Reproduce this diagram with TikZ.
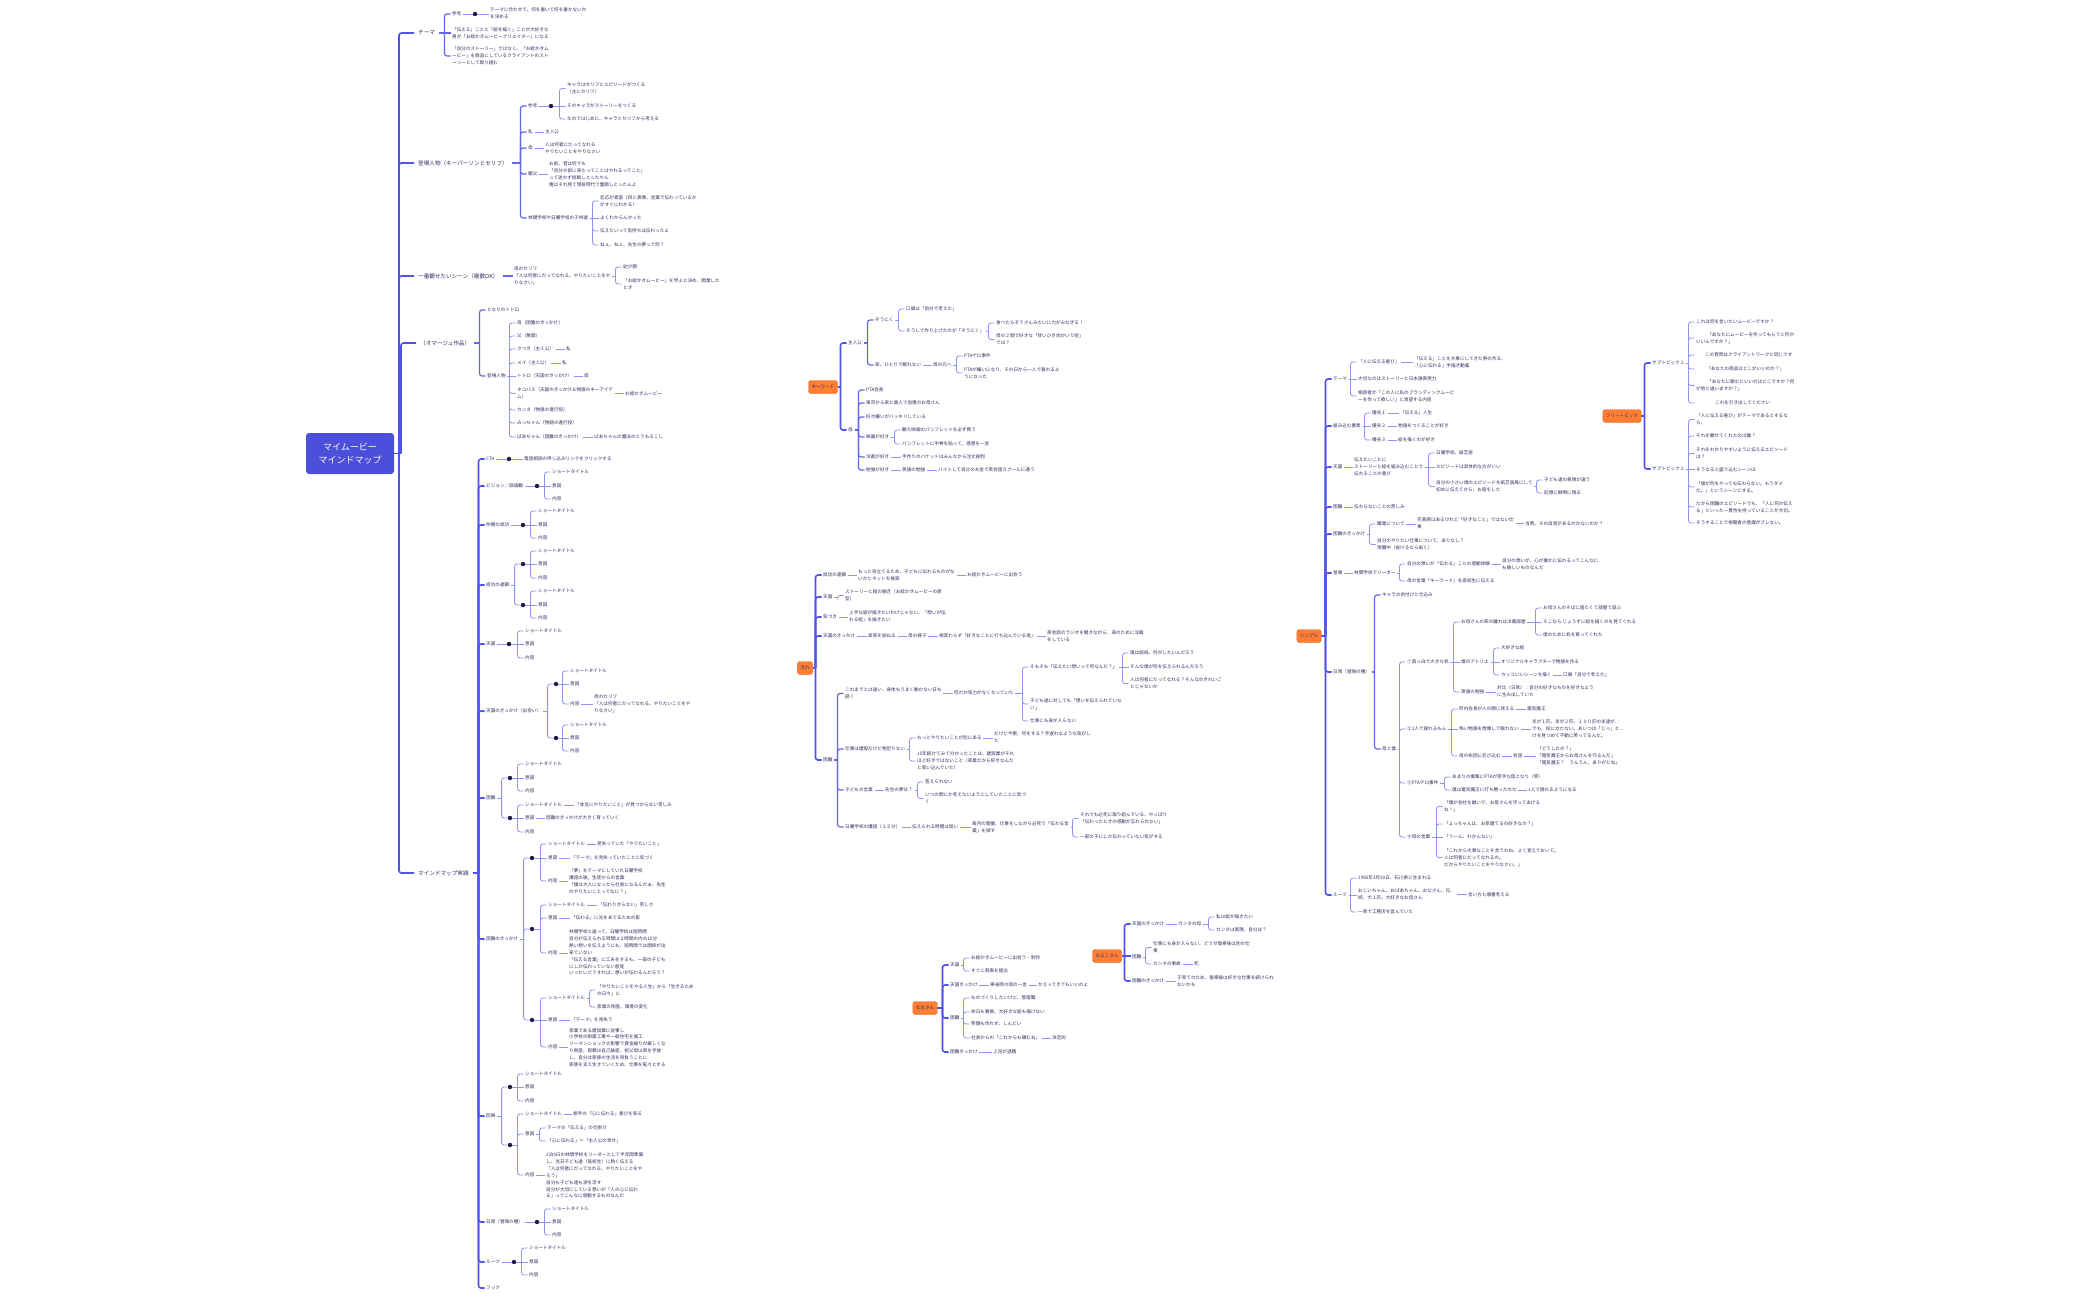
\documentclass[tikz,border=0pt]{standalone}
\usepackage{fontspec}
\setmainfont{Noto Sans CJK JP}
\definecolor{tc}{HTML}{2F2D5E}
\definecolor{dc}{HTML}{1E1B4B}
\definecolor{c1}{HTML}{4F53E6}
\definecolor{c2}{HTML}{6467EB}
\definecolor{c3}{HTML}{9294F3}
\definecolor{oc}{HTML}{FF7E33}
\definecolor{rc}{HTML}{4B4FD9}
\newcommand\fs{\fontsize{4.6}{6.9}\selectfont}
\newcommand\fb{\fontsize{5.6}{7}\selectfont}
\newdimen\Pya \newdimen\Pyb \newdimen\Pyd
\newcommand\Ex[4][l3]{%
  \pgfextracty{\Pya}{\pgfpointanchor{#2}{east}}%
  \pgfextracty{\Pyb}{\pgfpointanchor{#3}{west}}%
  \Pyd=\dimexpr\Pya-\Pyb\relax
  \ifdim\Pyd<0pt \Pyd=-\Pyd\fi
  \ifdim\Pyd<1.5pt
    \draw[#1] (#2.east) -- (#3.west |- #2.east);
  \else
    \draw[#1] (#2.east) -- ([xshift=-#4]#3.west |- #2.east);
    \draw[#1,rounded corners=2.5pt] ([xshift=-#4]#3.west |- #2.east) |- (#3.west);
  \fi}
\newcommand\E[3][l3]{\Ex[#1]{#2}{#3}{6pt}}
\newcommand\D[3]{\node[dt] (#1) at (#2,#3) {};}
\newcommand\STI[6]{%
  \node[t] (#1s) at (#3,#4) {ショートタイトル};
  \node[t] (#1i) at (#3,#5) {意図};
  \node[t] (#1n) at (#3,#6) {内容};
  \E{#2}{#1s}\E{#2}{#1i}\E{#2}{#1n}}
\begin{document}
\begin{tikzpicture}[x=1pt,y=-1pt,
  t/.style={anchor=west,xshift=-1.5pt,inner sep=1.5pt,font=\fs,text=tc,align=left},
  b/.style={anchor=west,xshift=-4pt,inner ysep=1.5pt,inner xsep=4pt,font=\fb,text=tc,align=left},
  dt/.style={circle,fill=dc,inner sep=0pt,minimum size=4.4pt},
  ob/.style={rounded corners=2.5pt,fill=oc,draw=oc!85!black,line width=0.4pt,font=\fs,text=tc,inner xsep=3pt,inner ysep=1pt,minimum height=13pt},
  rootbox/.style={rounded corners=3pt,fill=rc,text=white,font=\fontsize{9}{13}\selectfont,align=center,minimum width=88pt,minimum height=41pt,inner sep=1pt},
  l1/.style={line width=1.6pt,draw=c1},
  l2/.style={line width=1.2pt,draw=c2},
  l3/.style={line width=0.85pt,draw=c3}]
\useasboundingbox (0,0) rectangle (2100,1299);
\fill[white] (0,0) rectangle (2100,1299);

%================ ROOT =================
\node[rootbox] (root) at (350,453.5) {マイムービー\\マインドマップ};

% --- テーマ
\node[b] (T1) at (418,33) {テーマ};
\node[t] (T1a) at (452,14) {参考};
\D{T1ad}{475}{14}
\node[t] (T1ab) at (490,13.5) {テーマに合わせて、何を書いて何を書かないか\\を決める};
\node[t] (T1b) at (452,33.5) {「伝える」ことと「絵を描く」ことが大好きな\\男が「お絵かきムービークリエイター」になる};
\node[t] (T1c) at (452,56) {「自分のストーリー」ではなく、「お絵かきム\\ービー」を商品にしているクライアントのスト\\ーリーとして取り組む};
\Ex[l1]{root}{T1}{15pt}
\E[l2]{T1}{T1a}\E[l2]{T1}{T1b}\E[l2]{T1}{T1c}
\E{T1a}{T1ad}\E{T1ad}{T1ab}

% --- 登場人物
\node[b] (T2) at (418,163) {登場人物（キーパーソンとセリフ）};
\node[t] (T2a) at (528,106) {参考};
\D{T2ad}{551}{106}
\node[t] (T2a1) at (567,88.5) {キャラはセリフとエピソードがつくる\\（主にセリフ）};
\node[t] (T2a2) at (567,106) {そのキャラがストーリーをつくる};
\node[t] (T2a3) at (567,119) {なのではじめに、キャラとセリフから考える};
\node[t] (T2b) at (528,132) {私};
\node[t] (T2b1) at (545,132) {主人公};
\node[t] (T2c) at (528,148) {母};
\node[t] (T2c1) at (545,148.5) {人は何者にだってなれる\\やりたいことをやりなさい};
\node[t] (T2d) at (528,174) {親父};
\node[t] (T2d1) at (549,174) {お前、昔は何でも\\「自分の前に来たってことはやれるってこと」\\って迷わず挑戦しとったやん\\俺はそれ見て現役時代で奮闘しとったんよ};
\node[t] (T2e) at (528,218) {林間学校や日曜学校の子供達};
\node[t] (T2e1) at (600,201) {反応が素直（目と表情、言葉で伝わっているか\\がすぐにわかる）};
\node[t] (T2e2) at (600,218) {よくわからんかった};
\node[t] (T2e3) at (600,231) {伝えたいって気持ちは伝わったよ};
\node[t] (T2e4) at (600,245) {ねぇ、ねぇ、先生の夢って何？};
\Ex[l1]{root}{T2}{15pt}
\E[l2]{T2}{T2a}\E[l2]{T2}{T2b}\E[l2]{T2}{T2c}\E[l2]{T2}{T2d}\E[l2]{T2}{T2e}
\E{T2a}{T2ad}\E{T2ad}{T2a1}\E{T2ad}{T2a2}\E{T2ad}{T2a3}
\E{T2b}{T2b1}\E{T2c}{T2c1}\E{T2d}{T2d1}
\E{T2e}{T2e1}\E{T2e}{T2e2}\E{T2e}{T2e3}\E{T2e}{T2e4}

% --- 一番観せたいシーン
\node[b] (T3) at (418,276) {一番観せたいシーン（複数OK）};
\node[t] (T3a) at (514,276) {母のセリフ\\「人は何者にだってなれる、やりたいことをや\\りなさい」};
\node[t] (T3a1) at (623,267) {幼少期};
\node[t] (T3a2) at (623,284) {「お絵かきムービー」を学ぶと決め、開業した\\とき};
\Ex[l1]{root}{T3}{15pt}
\E[l2]{T3}{T3a}\E{T3a}{T3a1}\E{T3a}{T3a2}

% --- オマージュ作品
\node[b] (T4) at (420,343) {（オマージュ作品）};
\node[t] (T4a) at (487,310) {となりのトトロ};
\node[t] (T4b) at (487,376) {登場人物};
\node[t] (T4b1) at (517,323) {母（困難のきっかけ）};
\node[t] (T4b2) at (517,336) {父（無関）};
\node[t] (T4b3) at (517,349) {さつき（主人公）};
\node[t] (T4b3a) at (566,349) {私};
\node[t] (T4b4) at (517,363) {メイ（主人公）};
\node[t] (T4b4a) at (562,363) {私};
\node[t] (T4b5) at (517,376) {トトロ（天国のきっかけ）};
\node[t] (T4b5a) at (584,376) {母};
\node[t] (T4b6) at (517,393.5) {ネコバス（天国のきっかけ＆物語のキーアイテ\\ム）};
\node[t] (T4b6a) at (625,393.5) {お絵かきムービー};
\node[t] (T4b7) at (517,410) {カンタ（物語の進行役）};
\node[t] (T4b8) at (517,423) {みっちゃん（物語の進行役）};
\node[t] (T4b9) at (517,437) {ばあちゃん（困難のきっかけ）};
\node[t] (T4b9a) at (594,437) {ばあちゃんの魔法のとうもろこし};
\Ex[l1]{root}{T4}{15pt}
\E[l2]{T4}{T4a}\E[l2]{T4}{T4b}
\E{T4b}{T4b1}\E{T4b}{T4b2}\E{T4b}{T4b3}\E{T4b}{T4b4}\E{T4b}{T4b5}
\E{T4b}{T4b6}\E{T4b}{T4b7}\E{T4b}{T4b8}\E{T4b}{T4b9}
\E{T4b3}{T4b3a}\E{T4b4}{T4b4a}\E{T4b5}{T4b5a}\E{T4b6}{T4b6a}\E{T4b9}{T4b9a}

% --- マインドマップ実践
\node[b] (T5) at (418,873) {マインドマップ実践};
\Ex[l1]{root}{T5}{15pt}
\node[t] (M1) at (486,459) {CTA};
\D{M1d}{509}{459}
\node[t] (M1a) at (524,459) {電話相談の申し込みリンクをクリックする};
\E[l1]{T5}{M1}\E{M1}{M1d}\E{M1d}{M1a}

\node[t] (M2) at (486,486) {ビジョン／価値観};
\D{M2d}{537}{486}
\E[l1]{T5}{M2}\E{M2}{M2d}
\STI{M2}{M2d}{552}{472}{485.5}{499}

\node[t] (M3) at (486,525) {仲間の成功};
\D{M3d}{523}{525}
\E[l1]{T5}{M3}\E{M3}{M3d}
\STI{M3}{M3d}{538}{511}{525}{538}

\node[t] (M4) at (486,585) {成功の連鎖};
\D{M4d}{523}{564}\D{M4e}{523}{605}
\E[l1]{T5}{M4}\E{M4}{M4d}\E{M4}{M4e}
\STI{M4a}{M4d}{538}{551}{564}{578}
\STI{M4b}{M4e}{538}{591}{605}{618}

\node[t] (M5) at (486,644) {天国};
\D{M5d}{509}{644}
\E[l1]{T5}{M5}\E{M5}{M5d}
\STI{M5}{M5d}{525}{631}{644}{658}

\node[t] (M6) at (486,711) {天国のきっかけ（出会い）};
\D{M6d}{556}{684}\D{M6e}{556}{738}
\E[l1]{T5}{M6}\E{M6}{M6d}\E{M6}{M6e}
\STI{M6a}{M6d}{570}{671}{684}{704}
\node[t] (M6an2) at (594,704) {母のセリフ\\「人は何者にだってなれる、やりたいことをや\\りなさい」};
\E{M6an}{M6an2}
\STI{M6b}{M6e}{570}{725}{738}{751}

\node[t] (M7) at (486,798) {困難};
\D{M7d}{510}{778}\D{M7e}{510}{818}
\E[l1]{T5}{M7}\E{M7}{M7d}\E{M7}{M7e}
\STI{M7a}{M7d}{525}{764}{778}{791}
\STI{M7b}{M7e}{525}{805}{818}{832}
\node[t] (M7bs2) at (575,805) {「本当にやりたいこと」が見つからない苦しみ};
\node[t] (M7bi2) at (546,818) {困難のきっかけが大きく育っていく};
\E{M7bs}{M7bs2}\E{M7bi}{M7bi2}

\node[t] (M8) at (486,939) {困難のきっかけ};
\D{M8d}{532}{858}\D{M8e}{532}{929}\D{M8f}{532}{1020}
\E[l1]{T5}{M8}\E{M8}{M8d}\E{M8}{M8e}\E{M8}{M8f}
\STI{M8a}{M8d}{548}{844}{858}{881}
\node[t] (M8as2) at (597,844) {見失っていた「やりたいこと」};
\node[t] (M8ai2) at (571,858) {「テーマ」を見失っていたことに気づく};
\node[t] (M8an2) at (569,881.5) {「夢」をテーマにしていた日曜学校\\講話の後、生徒からの言葉\\「僕は大人になったら社長になるんだぁ、先生\\のやりたいことってなに？」};
\E{M8as}{M8as2}\E{M8ai}{M8ai2}\E{M8an}{M8an2}
\STI{M8b}{M8e}{548}{905}{918}{953}
\node[t] (M8bs2) at (598,905) {「伝わりきらない」苦しさ};
\node[t] (M8bi2) at (571,918) {「伝わる」に光をあてるための影};
\node[t] (M8bn2) at (569,952.5) {林間学校と違って、日曜学校は短時間\\自分が伝えられる時間は２時間の内の15分\\熱い想いを伝えようにも、短時間では関係が出\\来ていない\\「伝える言葉」に工夫をするも、一部の子ども\\にしか伝わっていない感覚\\いったいどうすれば、想いが伝わるんだろう？};
\E{M8bs}{M8bs2}\E{M8bi}{M8bi2}\E{M8bn}{M8bn2}
\STI{M8c}{M8f}{548}{998}{1020}{1047}
\node[t] (M8cs2) at (597,990) {「やりたいことをやる人生」から「生きるため\\の日々」に};
\node[t] (M8cs3) at (597,1007) {家業の倒産、環境の変化};
\node[t] (M8ci2) at (571,1020) {「テーマ」を見失う};
\node[t] (M8cn2) at (569,1047.5) {家業である建設業に従事し\\小学校の耐震工事や一般住宅を施工\\リーマンショックの影響で資金繰りが厳しくな\\り倒産、両親は自己破産、祖父母は家を手放\\し、自分は家族の生活を背負うことに\\家族を支え生きていくため、仕事を転々とする};
\E{M8cs}{M8cs2}\E{M8cs}{M8cs3}\E{M8ci}{M8ci2}\E{M8cn}{M8cn2}

\node[t] (M9) at (486,1116) {回帰};
\D{M9d}{510}{1087}\D{M9e}{510}{1145}
\E[l1]{T5}{M9}\E{M9}{M9d}\E{M9}{M9e}
\STI{M9a}{M9d}{525}{1074}{1087}{1101}
\STI{M9b}{M9e}{525}{1114}{1134}{1175}
\node[t] (M9bs2) at (573,1114) {相手の「心に伝わる」喜びを知る};
\node[t] (M9bi2) at (547,1128) {テーマの「伝える」の仕掛け};
\node[t] (M9bi3) at (547,1141) {「心に伝わる」＝「主人公の幸せ」};
\node[t] (M9bn2) at (546,1175.5) {2泊3日の林間学校をリーダーとして半年間準備\\し、当日子ども達（高校生）に熱く伝える\\「人は何者にだってなれる、やりたいことをや\\ろう」\\自分も子ども達も涙を流す\\自分が大切にしている想いが「人の心に伝わ\\る」ってこんなに感動するものなんだ};
\E{M9bs}{M9bs2}\E{M9bi}{M9bi2}\E{M9bi}{M9bi3}\E{M9bn}{M9bn2}

\node[t] (M10) at (486,1222) {日常（冒険の種）};
\D{M10d}{537}{1222}
\E[l1]{T5}{M10}\E{M10}{M10d}
\STI{M10}{M10d}{552}{1209}{1222}{1235}

\node[t] (M11) at (486,1262) {ルーツ};
\D{M11d}{514}{1262}
\E[l1]{T5}{M11}\E{M11}{M11d}
\STI{M11}{M11d}{529}{1248}{1262}{1275}

\node[t] (M12) at (486,1288) {フック};
\E[l1]{T5}{M12}

%================ キーワード =================
\node[ob] (K) at (823,387) {キーワード};
\node[t] (K1) at (848,343) {主人公};
\node[t] (K1a) at (875,320) {ぞうにく};
\node[t] (K1a1) at (906,309) {口癖は「自分で考えた」};
\node[t] (K1a2) at (906,331) {そうして作り上げたのが「ぞうにく」};
\node[t] (K1a2a) at (996,323) {食べたらぞうさんみたいに力がみなぎる！};
\node[t] (K1a2b) at (996,339.5) {母の２個で好きな「甘いひき肉かいり前」\\では？};
\node[t] (K1b) at (875,365) {夜、ひとりで眠れない};
\node[t] (K1b1) at (933,365) {母の元へ};
\node[t] (K1b1a) at (964,356) {PTAゲロ事件};
\node[t] (K1b1b) at (964,373) {PTAが嫌いになり、その日から一人で寝れるよ\\うになった};
\node[t] (K2) at (848,430) {母};
\node[t] (K2a) at (866,390) {PTA会長};
\node[t] (K2b) at (866,403) {東京から来た美人で自慢のお母さん};
\node[t] (K2c) at (866,417) {好き嫌いがハッキリしている};
\node[t] (K2d) at (866,437) {映画が好き};
\node[t] (K2d1) at (902,430) {観た映画のパンフレットを必ず買う};
\node[t] (K2d2) at (902,444) {パンフレットに半券を貼って、感想を一言};
\node[t] (K2e) at (866,457) {洋裁が好き};
\node[t] (K2e1) at (902,457) {手作りのバケットはみんなから注文殺到};
\node[t] (K2f) at (866,470) {勉強が好き};
\node[t] (K2f1) at (902,470) {英語の勉強};
\node[t] (K2f2) at (938,470) {バイトして自分のお金で英会話スクールに通う};
\E[l1]{K}{K1}\E[l1]{K}{K2}
\E[l2]{K1}{K1a}\E[l2]{K1}{K1b}
\E{K1a}{K1a1}\E{K1a}{K1a2}\E{K1a2}{K1a2a}\E{K1a2}{K1a2b}
\E{K1b}{K1b1}\E{K1b1}{K1b1a}\E{K1b1}{K1b1b}
\E[l2]{K2}{K2a}\E[l2]{K2}{K2b}\E[l2]{K2}{K2c}\E[l2]{K2}{K2d}\E[l2]{K2}{K2e}\E[l2]{K2}{K2f}
\E{K2d}{K2d1}\E{K2d}{K2d2}\E{K2e}{K2e1}\E{K2f}{K2f1}\E{K2f1}{K2f2}

%================ 流れ =================
\node[ob] (F) at (805,668) {流れ};
\node[t] (F1) at (823,575) {成功の連鎖};
\node[t] (F1a) at (858,575.5) {もっと役立てるため、子どもに伝わるものがな\\いかとネットを検索};
\node[t] (F1b) at (967,575) {お絵かきムービーに出会う};
\node[t] (F2) at (823,597) {天国};
\node[t] (F2a) at (845,595.5) {ストーリーと絵の融合（お絵かきムービーの原\\型）};
\node[t] (F3) at (823,617) {気づき};
\node[t] (F3a) at (849,616.5) {上手な絵が描きたいわけじゃない、「想いが伝\\わる絵」を描きたい};
\node[t] (F4) at (823,636) {天国のきっかけ};
\node[t] (F4a) at (868,636) {実家を訪ねる};
\node[t] (F4b) at (908,636) {母の様子};
\node[t] (F4c) at (939,636) {相変わらず「好きなことに打ち込んでいる母」};
\node[t] (F4d) at (1047,636.5) {英会話のラジオを聞きながら、孫のために洋裁\\をしている};
\node[t] (F5) at (823,760) {困難};
\node[t] (F5a) at (845,693.5) {これまでとは違い、身体もうまく動かない日も\\続く};
\node[t] (F5a1) at (954,693) {何だか気力がなくなっていた};
\node[t] (F5a1a) at (1030,667) {そもそも「伝えたい想いって何なんだ？」};
\node[t] (F5a1a1) at (1130,653) {僕は結局、何がしたいんだろう};
\node[t] (F5a1a2) at (1130,667) {そんな僕が何を伝えられるんだろう};
\node[t] (F5a1a3) at (1130,683.5) {人は何者にだってなれる？そんなのきれいご\\とじゃないか};
\node[t] (F5a1b) at (1030,704) {子ども達に対しても「想いを伝えられていな\\い」};
\node[t] (F5a1c) at (1030,721) {仕事にも身が入らない};
\node[t] (F5b) at (845,749) {仕事は建設だけど物足りない};
\node[t] (F5b1) at (917,738) {もっとやりたいことが別にある};
\node[t] (F5b1a) at (994,737.5) {だけど今更、何をする？手遅れなような気がし\\た};
\node[t] (F5b2) at (917,761) {15年続けてみて分かったことは、建設業がそれ\\ほど好きではないこと（家業だから好きなんだ\\と思い込んでいた）};
\node[t] (F5c) at (845,790) {子どもの言葉};
\node[t] (F5c1) at (885,790) {先生の夢は？};
\node[t] (F5c1a) at (925,782) {答えられない};
\node[t] (F5c1b) at (925,798.5) {いつの間にか考えないようにしていたことに気づ\\く};
\node[t] (F5d) at (845,827) {日曜学校の講話（１５分）};
\node[t] (F5d1) at (912,827) {伝えられる時間は短い};
\node[t] (F5d2) at (972,827.5) {毎月の開催、仕事をしながら必死で「伝わる言\\葉」を探す};
\node[t] (F5d2a) at (1080,818.5) {それでも必死に取り組んでいる、やっぱり\\「伝わったときの感動が忘れられない」};
\node[t] (F5d2b) at (1080,837) {一部の子にしか伝わっていない気がする};
\E[l1]{F}{F1}\E[l1]{F}{F2}\E[l1]{F}{F3}\E[l1]{F}{F4}\E[l1]{F}{F5}
\E{F1}{F1a}\E{F1a}{F1b}\E{F2}{F2a}\E{F3}{F3a}
\E{F4}{F4a}\E{F4a}{F4b}\E{F4b}{F4c}\E{F4c}{F4d}
\E[l2]{F5}{F5a}\E[l2]{F5}{F5b}\E[l2]{F5}{F5c}\E[l2]{F5}{F5d}
\E{F5a}{F5a1}\E{F5a1}{F5a1a}\E{F5a1}{F5a1b}\E{F5a1}{F5a1c}
\E{F5a1a}{F5a1a1}\E{F5a1a}{F5a1a2}\E{F5a1a}{F5a1a3}
\E{F5b}{F5b1}\E{F5b}{F5b2}\E{F5b1}{F5b1a}
\E{F5c}{F5c1}\E{F5c1}{F5c1a}\E{F5c1}{F5c1b}
\E{F5d}{F5d1}\E{F5d1}{F5d2}\E{F5d2}{F5d2a}\E{F5d2}{F5d2b}

%================ なおさん =================
\node[ob] (N) at (925,1008) {なおさん};
\node[t] (N1) at (950,965) {天国};
\node[t] (N1a) at (971,958) {お絵かきムービーに出会う・制作};
\node[t] (N1b) at (971,971) {すぐに辞表を提出};
\node[t] (N2) at (950,985) {天国きっかけ};
\node[t] (N2a) at (990,985) {帰省時の母の一言};
\node[t] (N2b) at (1038,985) {かえってきてもいいのよ};
\node[t] (N3) at (950,1018) {困難};
\node[t] (N3a) at (971,998) {ものづくりしたいけど、管理職};
\node[t] (N3b) at (971,1012) {休日も要員、大好きな絵も描けない};
\node[t] (N3c) at (971,1024) {笑顔も作れず、しんどい};
\node[t] (N3d) at (971,1038) {社長からの「これからも頼むね」};
\node[t] (N3d1) at (1052,1038) {決定的};
\node[t] (N4) at (950,1052) {困難きっかけ};
\node[t] (N4a) at (993,1052) {上司が退職};
\E[l1]{N}{N1}\E[l1]{N}{N2}\E[l1]{N}{N3}\E[l1]{N}{N4}
\E{N1}{N1a}\E{N1}{N1b}\E{N2}{N2a}\E{N2a}{N2b}
\E{N3}{N3a}\E{N3}{N3b}\E{N3}{N3c}\E{N3}{N3d}\E{N3d}{N3d1}\E{N4}{N4a}

%================ なるこさん =================
\node[ob] (R) at (1107,956) {なるこさん};
\node[t] (R1) at (1132,924) {天国のきっかけ};
\node[t] (R1a) at (1178,924) {カンタの母};
\node[t] (R1a1) at (1216,917) {私は絵が描きたい};
\node[t] (R1a2) at (1216,930) {カンタは表現、自分は？};
\node[t] (R2) at (1132,957) {困難};
\node[t] (R2a) at (1153,947.5) {仕事にも身が入らない、どうせ復帰後は別の仕\\事};
\node[t] (R2b) at (1153,964) {カンタの事故};
\node[t] (R2b1) at (1194,964) {死};
\node[t] (R3) at (1132,981) {困難のきっかけ};
\node[t] (R3a) at (1177,981) {子育てのため、復帰後は好きな仕事を続けられ\\ないかも};
\E[l1]{R}{R1}\E[l1]{R}{R2}\E[l1]{R}{R3}
\E{R1}{R1a}\E{R1a}{R1a1}\E{R1a}{R1a2}
\E{R2}{R2a}\E{R2}{R2b}\E{R2b}{R2b1}\E{R3}{R3a}

%================ シンプル =================
\node[ob] (S) at (1309,636) {シンプル};
\node[t] (S1) at (1333,379) {テーマ};
\node[t] (S1a) at (1358,362) {「人に伝える喜び」};
\node[t] (S1a1) at (1414,362.5) {「伝える」ことを大事にしてきた男の作る、\\「心に伝わる」手描き動画};
\node[t] (S1b) at (1358,379) {大切なのはストーリーと日本語表現力};
\node[t] (S1c) at (1358,396) {相談者が「この人に私のブランディングムービ\\ーを作って欲しい」と渇望する内容};
\node[t] (S2) at (1333,426) {組み込む要素};
\node[t] (S2a) at (1372,413) {優先１};
\node[t] (S2a1) at (1400,413) {「伝える」人生};
\node[t] (S2b) at (1372,426) {優先２};
\node[t] (S2b1) at (1398,426) {物語をつくることが好き};
\node[t] (S2c) at (1372,440) {優先３};
\node[t] (S2c1) at (1398,440) {絵を描くのが好き};
\node[t] (S3) at (1333,467) {天国};
\node[t] (S3a) at (1354,467) {伝えたいことに\\ストーリーと絵を組み込むことで\\伝わることの喜び};
\node[t] (S3a1) at (1436,453) {日曜学校、紙芝居};
\node[t] (S3a2) at (1436,467) {エピソードは具体的な方がいい};
\node[t] (S3a3) at (1436,486.5) {自分の小さい頃のエピソードを紙芝居風にして\\初めに伝えてから、お話をした};
\node[t] (S3a3a) at (1544,480) {子ども達の表情が違う};
\node[t] (S3a3b) at (1544,493) {記憶に鮮明に残る};
\node[t] (S4) at (1333,507) {困難};
\node[t] (S4a) at (1354,507) {伝わらないことの苦しみ};
\node[t] (S5) at (1333,534) {困難のきっかけ};
\node[t] (S5a) at (1377,524) {職業について};
\node[t] (S5a1) at (1417,523.5) {充実感はあるけれど「好きなこと」ではない仕\\事};
\node[t] (S5a2) at (1525,524) {当時、その自覚があるのかないのか？};
\node[t] (S5b) at (1377,544.5) {自分のやりたい仕事について、ありなし？\\現職中（省けるなら省く）};
\node[t] (S6) at (1333,573) {冒険};
\node[t] (S6a) at (1354,573) {林間学校でリーダー};
\node[t] (S6a1) at (1407,564) {自分の想いが「伝わる」ことの感動体験};
\node[t] (S6a1a) at (1502,564) {自分の想いが、心が誰かに伝わるってこんなに\\も嬉しいものなんだ};
\node[t] (S6a2) at (1407,581) {母の言葉「キーワード」を高校生に伝える};
\node[t] (S7) at (1333,672) {日常（冒険の種）};
\node[t] (S7a) at (1382,595) {キャラの肉付けと仕込み};
\node[t] (S7b) at (1382,749) {母と僕};
\node[t] (S71) at (1407,662) {①真っ白で大きな机};
\node[t] (S71a) at (1461,622) {お母さんの家の離れは洋裁部屋};
\node[t] (S71a1) at (1543,608) {お母さんのそばに居たくて部屋で遊ぶ};
\node[t] (S71a2) at (1543,622) {そこなら じょうずに絵を描くのを見てくれる};
\node[t] (S71a3) at (1543,635) {僕のために机を買ってくれた};
\node[t] (S71b) at (1461,662) {僕のアトリエ};
\node[t] (S71b1) at (1501,648) {大好きな絵};
\node[t] (S71b2) at (1501,662) {オリジナルキャラクターで物語を作る};
\node[t] (S71b3) at (1501,675) {カッコいいシーンを描く};
\node[t] (S71b3a) at (1563,675) {口癖「自分で考えた」};
\node[t] (S71c) at (1461,692) {英語の勉強};
\node[t] (S71c1) at (1497,691.5) {対比（日常）：自分の好きなものを好きなよう\\に生み出していた};
\node[t] (S72) at (1407,729) {②1人で寝れるもん};
\node[t] (S72a) at (1459,709) {町内会長が人の顔に見える};
\node[t] (S72a1) at (1527,709) {電気魔王};
\node[t] (S72b) at (1459,729) {怖い物語を想像して眠れない};
\node[t] (S72b1) at (1532,729) {羊が１匹、羊が２匹、１００匹の羊達が…\\でも、役に立たない。あいつは「じっ」と…\\けを見つめて不動に笑ってるんだ。};
\node[t] (S72c) at (1459,756) {母の布団に忍び込む};
\node[t] (S72c1) at (1513,756) {会話};
\node[t] (S72c2) at (1537,755.5) {「どうしたの？」\\「電気魔王からお母さんを守るんだ」\\「電気魔王？　うんうん、ありがとね」};
\node[t] (S73) at (1407,783) {③PTAゲロ事件};
\node[t] (S73a) at (1452,777) {あまりの衝撃にPTAが苦手な話となり（笑）};
\node[t] (S73b) at (1452,790) {僕は電気魔王に打ち勝ったのだ};
\node[t] (S73b1) at (1528,790) {1人で寝れるようになる};
\node[t] (S74) at (1407,837) {④母の言葉};
\node[t] (S74a) at (1444,806.5) {「僕が会社を継いで、お母さんを守ってあげる\\ね！」};
\node[t] (S74b) at (1444,824) {「よっちゃんは、お家建てるの好きなの？」};
\node[t] (S74c) at (1444,837) {「うーん、わかんない」};
\node[t] (S74d) at (1444,857.5) {「これから大事なことを言うわね、よく覚えておいて。\\人は何者にだってなれるの。\\だからやりたいことをやりなさい。」};
\node[t] (S8) at (1333,895) {ルーツ};
\node[t] (S8a) at (1358,878) {1985年3月19日、石川県に生まれる};
\node[t] (S8b) at (1358,894.5) {おじいちゃん、おばあちゃん、お父さん、兄、\\姉、犬１匹、大好きなお母さん};
\node[t] (S8b1) at (1468,895) {言い方と順番考える};
\node[t] (S8c) at (1358,912) {一家で工務店を営んでいた};
\E[l1]{S}{S1}\E[l1]{S}{S2}\E[l1]{S}{S3}\E[l1]{S}{S4}\E[l1]{S}{S5}\E[l1]{S}{S6}\E[l1]{S}{S7}\E[l1]{S}{S8}
\E{S1}{S1a}\E{S1}{S1b}\E{S1}{S1c}\E{S1a}{S1a1}
\E{S2}{S2a}\E{S2}{S2b}\E{S2}{S2c}\E{S2a}{S2a1}\E{S2b}{S2b1}\E{S2c}{S2c1}
\E{S3}{S3a}\E{S3a}{S3a1}\E{S3a}{S3a2}\E{S3a}{S3a3}\E{S3a3}{S3a3a}\E{S3a3}{S3a3b}
\E{S4}{S4a}
\E{S5}{S5a}\E{S5}{S5b}\E{S5a}{S5a1}\E{S5a1}{S5a2}
\E{S6}{S6a}\E{S6a}{S6a1}\E{S6a}{S6a2}\E{S6a1}{S6a1a}
\E[l2]{S7}{S7a}\E[l2]{S7}{S7b}
\E{S7b}{S71}\E{S7b}{S72}\E{S7b}{S73}\E{S7b}{S74}
\E{S71}{S71a}\E{S71}{S71b}\E{S71}{S71c}
\E{S71a}{S71a1}\E{S71a}{S71a2}\E{S71a}{S71a3}
\E{S71b}{S71b1}\E{S71b}{S71b2}\E{S71b}{S71b3}\E{S71b3}{S71b3a}\E{S71c}{S71c1}
\E{S72}{S72a}\E{S72}{S72b}\E{S72}{S72c}\E{S72a}{S72a1}\E{S72b}{S72b1}\E{S72c}{S72c1}\E{S72c1}{S72c2}
\E{S73}{S73a}\E{S73}{S73b}\E{S73b}{S73b1}
\E{S74}{S74a}\E{S74}{S74b}\E{S74}{S74c}\E{S74}{S74d}
\E{S8}{S8a}\E{S8}{S8b}\E{S8}{S8c}\E{S8b}{S8b1}

%================ フリートピック =================
\node[ob] (P) at (1622,416) {フリートピック};
\node[t] (P1) at (1652,363) {サブトピック１};
\node[t] (P1a) at (1696,322) {これは何を言いたいムービーですか？};
\node[t] (P1b) at (1696,338) {\hspace*{11pt}「あなたにムービーを作ってもらうと何が\\いいんですか？」};
\node[t] (P1c) at (1696,355) {\hspace*{9pt}この質問はクライアントワークと同じです};
\node[t] (P1d) at (1696,369) {\hspace*{10pt}「あなたの商品はどこがいいのか？」};
\node[t] (P1e) at (1696,385.5) {\hspace*{11pt}「あなたに頼むといいのはどこですか？何\\が他と違いますか？」};
\node[t] (P1f) at (1696,403) {\hspace*{19pt}これを引き出してください};
\node[t] (P2) at (1652,469) {サブトピック１};
\node[t] (P2a) at (1696,419.5) {「人に伝える喜び」がテーマであるとするな\\ら、};
\node[t] (P2b) at (1696,436) {それを観せてくれたのは誰？};
\node[t] (P2c) at (1696,453.5) {それをわかりやすいように伝えるエピソード\\は？};
\node[t] (P2d) at (1696,470) {そうなると盛り込むシーンは};
\node[t] (P2e) at (1696,487) {「僕が何をやっても伝わらない。もうダメ\\だ。」というシーンにする。};
\node[t] (P2f) at (1696,507) {だから困難のエピソードでも、「人に何か伝え\\る」といった一貫性を持っていることが大切。};
\node[t] (P2g) at (1696,523) {そうすることで視聴者の意識がブレない。};
\E[l1]{P}{P1}\E[l1]{P}{P2}
\E{P1}{P1a}\E{P1}{P1b}\E{P1}{P1c}\E{P1}{P1d}\E{P1}{P1e}\E{P1}{P1f}
\E{P2}{P2a}\E{P2}{P2b}\E{P2}{P2c}\E{P2}{P2d}\E{P2}{P2e}\E{P2}{P2f}\E{P2}{P2g}
\end{tikzpicture}
\end{document}
